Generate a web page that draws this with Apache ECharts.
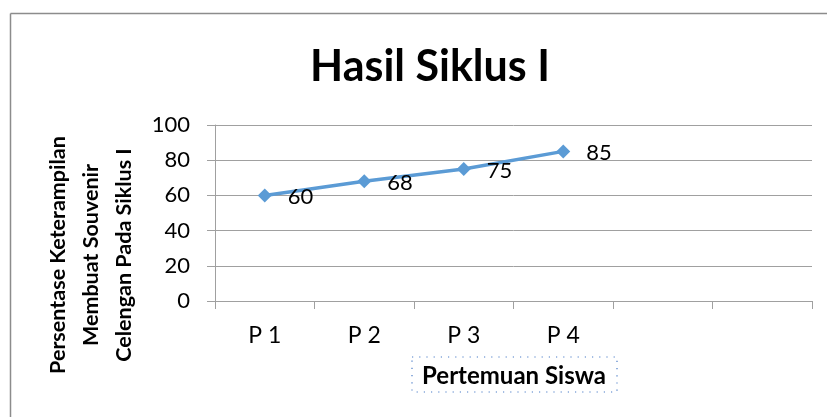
<!DOCTYPE html>
<html>
<head>
<meta charset="utf-8">
<script src="https://cdn.jsdelivr.net/npm/echarts@6/dist/echarts.min.js"></script>
<style>html,body{margin:0;padding:0;background:#fff;}#c{width:827px;height:417px;}</style>
</head>
<body>
<div id="c"></div>
<script>
var categories = ['P 1', 'P 2', 'P 3', 'P 4', '', ''];
var values = [60, 68, 75, 85];
var yTicks = [0, 20, 40, 60, 80, 100];
var titleText = 'Hasil Siklus I';
var yTitleLines = ['Persentase Keterampilan', 'Membuat Souvenir', 'Celengan Pada Siklus I'];
var xTitle = 'Pertemuan Siswa';

var chart = echarts.init(document.getElementById('c'));
var font = 'Lato';
function vText(x, txt) {
  return {type: 'text', x: x, y: 255, rotation: Math.PI / 2,
    style: {text: txt, align: 'center', verticalAlign: 'middle', fontFamily: font, fontSize: 21.5, fontWeight: 'bold', fill: '#000'}};
}
chart.setOption({
  animation: false,
  backgroundColor: '#fff',
  title: {
    text: titleText, left: 425, top: 41, textAlign: 'center',
    textStyle: {fontFamily: font, fontSize: 43, fontWeight: 'bold', color: '#000'}
  },
  grid: {left: 215, right: 15, top: 125, bottom: 116},
  xAxis: {
    type: 'category', data: categories, boundaryGap: true,
    axisLine: {lineStyle: {color: '#a0a0a0', width: 1}},
    axisTick: {show: true, length: 8, alignWithLabel: false, interval: 0, lineStyle: {color: '#a0a0a0'}},
    axisLabel: {interval: 0, margin: 23, fontFamily: font, fontSize: 23, color: '#000'}
  },
  yAxis: {
    type: 'value', min: yTicks[0], max: yTicks[yTicks.length - 1], interval: 20,
    axisLine: {show: true, lineStyle: {color: '#a0a0a0', width: 1}},
    axisTick: {show: true, length: 8, lineStyle: {color: '#a0a0a0'}},
    splitLine: {lineStyle: {color: '#a0a0a0', width: 1}},
    axisLabel: {margin: 25, fontFamily: font, fontSize: 22, color: '#000'}
  },
  series: [{
    type: 'line', data: values,
    lineStyle: {color: '#5b9bd5', width: 3.5},
    itemStyle: {color: '#5b9bd5'},
    symbol: 'diamond', symbolSize: 14,
    label: {show: true, position: 'right', distance: 16, offset: [0, 2], fontFamily: font, fontSize: 22, color: '#000'}
  }],
  graphic: [
    {type: 'line', shape: {x1: 10.5, y1: 13.5, x2: 827, y2: 13.5}, style: {stroke: '#8c8c8c', lineWidth: 1.5}},
    {type: 'line', shape: {x1: 10.5, y1: 13.5, x2: 10.5, y2: 417}, style: {stroke: '#8c8c8c', lineWidth: 1.5}},
    {type: 'rect', shape: {x: 412, y: 357, width: 205, height: 35}, style: {fill: 'none', stroke: '#4a7cc7', lineWidth: 1.2, lineDash: [1.2, 6]}},
    {type: 'text', x: 514, y: 376, style: {text: xTitle, align: 'center', verticalAlign: 'middle', fontFamily: font, fontSize: 24, fontWeight: 'bold', fill: '#000'}},
    vText(58, yTitleLines[0]),
    vText(91, yTitleLines[1]),
    vText(124, yTitleLines[2])
  ]
});
</script>
</body>
</html>
